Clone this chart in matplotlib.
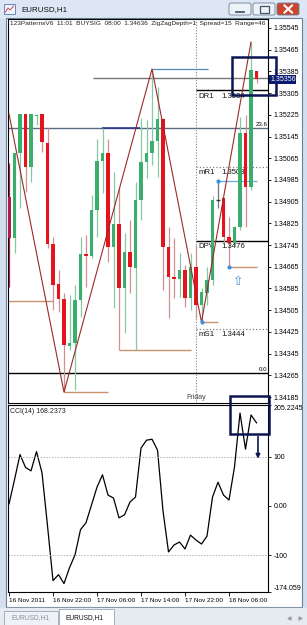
import matplotlib
matplotlib.use('Agg')
import matplotlib.pyplot as plt
import matplotlib.transforms as mtransforms
from matplotlib.patches import Rectangle, FancyBboxPatch

plt.rcParams['font.family'] = ['Liberation Sans', 'DejaVu Sans']

W, H = 307, 625

# EURUSD H1, one candle per hour, 16 Nov 14:00 .. 18 Nov 11:00
opens = [1.34922, 1.34771, 1.35084, 1.35228, 1.35033, 1.35221, 1.35228, 1.35121, 1.34749, 1.34602,
         1.34546, 1.34373, 1.34384, 1.34543, 1.34712, 1.34705, 1.34874, 1.35055, 1.35084, 1.34738,
         1.34823, 1.34587, 1.34719, 1.34660, 1.34911, 1.35051, 1.35084, 1.35128, 1.35210, 1.34738,
         1.34627, 1.34620, 1.34653, 1.34550, 1.34664, 1.34524, 1.34568, 1.34616, 1.34911, 1.34918,
         1.34775, 1.34753, 1.34812, 1.35158, 1.34959, 1.35387]
highs = [1.35047, 1.35084, 1.35228, 1.35228, 1.35228, 1.35228, 1.35228, 1.35176, 1.34775, 1.34653,
         1.34568, 1.34561, 1.34598, 1.34775, 1.34782, 1.34930, 1.35136, 1.35176, 1.35136, 1.35014,
         1.34959, 1.34789, 1.34837, 1.34977, 1.35213, 1.35206, 1.35394, 1.35328, 1.35215, 1.34812,
         1.34771, 1.34716, 1.34672, 1.34716, 1.34745, 1.34587, 1.34664, 1.34925, 1.34981, 1.34918,
         1.34848, 1.34815, 1.35217, 1.35224, 1.35493, 1.35387]
lows = [1.34590, 1.34716, 1.34882, 1.34941, 1.34977, 1.35188, 1.35088, 1.34734, 1.34506, 1.34498,
        1.34203, 1.34358, 1.34211, 1.34480, 1.34590, 1.34697, 1.34775, 1.34937, 1.34683, 1.34513,
        1.34358, 1.34420, 1.34568, 1.34358, 1.34837, 1.34992, 1.35040, 1.34996, 1.34579, 1.34476,
        1.34550, 1.34554, 1.34517, 1.34506, 1.34476, 1.34461, 1.34524, 1.34598, 1.34882, 1.34756,
        1.34664, 1.34745, 1.34801, 1.34812, 1.34948, 1.35342]
closes = [1.34771, 1.35084, 1.35228, 1.35033, 1.35228, 1.35224, 1.35125, 1.34749, 1.34598, 1.34546,
          1.34377, 1.34384, 1.34543, 1.34712, 1.34705, 1.34874, 1.35055, 1.35084, 1.34738, 1.34823,
          1.34587, 1.34719, 1.34664, 1.34911, 1.35051, 1.35084, 1.35128, 1.35210, 1.34738, 1.34627,
          1.34620, 1.34653, 1.34550, 1.34664, 1.34524, 1.34572, 1.34616, 1.34911, 1.34911, 1.34775,
          1.34753, 1.34812, 1.35158, 1.34959, 1.35390, 1.35356]
cci = [4, 53, 104, 78, 71, 110, 67, -40, -151, -139,
       -157, -125, -99, -48, -34, 2, 38, 63, 22, 16,
       -24, -18, 8, 18, 117, 133, 135, 113, -10, -93,
       -79, -73, -87, -59, -69, -77, -61, 18, 48, 22,
       12, 79, 188, 115, 184, 168.2373]

price_ticks = [1.35545, 1.35465, 1.35385, 1.35305, 1.35225, 1.35145, 1.35065, 1.34985, 1.34905,
               1.34825, 1.34745, 1.34665, 1.34585, 1.34505, 1.34425, 1.34345, 1.34265, 1.34185]
cci_ticks = [205.2245, 100, 0, -100, -174.059]
cci_tick_labels = ['205.2245', '100', '0.00', '-100', '-174.059']
date_ticks = [0, 8, 16, 24, 32, 40]
date_labels = ['16 Nov 2011', '16 Nov 22:00', '17 Nov 06:00', '17 Nov 14:00', '17 Nov 22:00', '18 Nov 06:00']

zigzag_bars = [0, 10, 26, 35, 44]
zigzag_prices = [1.35228, 1.34203, 1.35394, 1.34461, 1.35493]

pivot_names = ['DR1', 'mR1', 'DPV', 'mS1']
pivot_texts = ['1.3534', '1.3503', '1.3476', '1.3444']
pivot_levels = [1.35316, 1.35033, 1.34760, 1.34436]
pivot_styles = ['-', ':', '-', ':']

# swing-low lines (start bar, end bar, price)
swing_lines = [(-0.3, 8, 1.34539), (10, 18, 1.34203), (20, 33, 1.34358), (35, 38, 1.34461), (40, 45, 1.34664)]
signal_dots_bars = [35, 40, 38]
signal_dots_prices = [1.34461, 1.34664, 1.34981]

fib_236 = 1.35176
fib_000 = 1.34273
last_price = 1.35356
friday_bar = 34
header = '123PatternsV6  11:01  BUYSIG  08:00  1.34636  ZigZagDepth=1  Spread=15  Range=46'

BULL, BEAR = '#3aae6c', '#e5141c'
BULL_WICK, BEAR_WICK = '#86c9a0', '#d39090'
NAVY = '#0d1552'
FS = 5.0


def frac(x0, y0, x1, y1):
    return [x0 / W, 1 - y1 / H, (x1 - x0) / W, (y1 - y0) / H]


fig = plt.figure(figsize=(W / 100, H / 100), dpi=100)
fig.patch.set_facecolor('#d3deee')

# ---- window chrome (pixel coordinates) ----
bg = fig.add_axes([0, 0, 1, 1], zorder=0)
bg.set_xlim(0, W)
bg.set_ylim(H, 0)
bg.axis('off')
bg.add_patch(Rectangle((0, 0), W, 18, color='#dce6f4'))
bg.add_patch(Rectangle((6, 18), 296, 589, facecolor='white', edgecolor='#6d7f99', lw=0.8))
bg.add_patch(Rectangle((4, 4), 11, 10, facecolor='#eef2f9', edgecolor='#5577aa', lw=0.6))
bg.plot([5.5, 8, 10, 13.5], [12, 8, 10, 6], color='#cc3333', lw=0.6)
bg.text(21, 9.5, 'EURUSD,H1', fontsize=5.8, va='center', color='#101010')
for x0, fc in [(229, '#edf1f8'), (253, '#edf1f8'), (277, '#c9462c')]:
    bg.add_patch(FancyBboxPatch((x0, 3), 22, 12, boxstyle='round,pad=0,rounding_size=2',
                                fc=fc, ec='#6f7f99', lw=0.6))
bg.plot([235.5, 243.5], [11.5, 11.5], color='#44556e', lw=1.3)
bg.add_patch(Rectangle((259.5, 6), 9, 6.5, fill=False, ec='#44556e', lw=0.9))
bg.plot([284.5, 292], [5.5, 12.5], color='white', lw=1.5)
bg.plot([284.5, 292], [12.5, 5.5], color='white', lw=1.5)
bg.add_patch(Rectangle((0, 608), W, 17, color='#e6ebf2'))
bg.add_patch(Rectangle((4, 611), 54, 14, fc='#eef1f6', ec='#98a4b8', lw=0.6))
bg.add_patch(Rectangle((59, 609), 55, 16, fc='white', ec='#98a4b8', lw=0.6))
bg.text(11, 618, 'EURUSD,H1', fontsize=4.8, color='#8a929c', va='center')
bg.text(66, 618, 'EURUSD,H1', fontsize=4.8, color='#101010', va='center')
bg.plot([289], [618], marker='<', ms=2.2, color='#a0a0a0')
bg.plot([300], [618], marker='>', ms=2.2, color='#a0a0a0')

# ---- main price window ----
ax = fig.add_axes(frac(7.5, 19, 268, 403), zorder=2)
xlim = (-0.273, 47.09)
ax.set_xlim(*xlim)
ax.set_ylim(1.34163, 1.35578)
ax.set_xticks([])
ax.yaxis.tick_right()
ax.set_yticks(price_ticks)
ax.set_yticklabels(['%.5f' % p for p in price_ticks])
ax.tick_params(axis='y', length=2.5, width=0.6, pad=1.5, labelsize=FS, direction='out')
for s in ax.spines.values():
    s.set_color('black')
    s.set_linewidth(0.8)

ax.text(0.0096, 0.987, header, transform=ax.transAxes, fontsize=4.65, va='center', color='#202020')

# levels
ax.axhline(fib_236, color='#5b6b82', lw=1, zorder=1)
ax.axhline(fib_000, color='black', lw=1, zorder=1)
ax.text(xlim[1] - 0.05, fib_236 + 0.00003, '23.6', ha='right', va='bottom', fontsize=4.4)
ax.text(xlim[1] - 0.05, fib_000 + 0.00003, '0.0', ha='right', va='bottom', fontsize=4.4)
ax.hlines(1.35361, 15.3, xlim[1], color='#777777', lw=1, zorder=1)
ax.hlines(1.35176, 16.9, 23.8, color='#1f2f8a', lw=1.1, zorder=1)
ax.hlines(1.35394, 26, 36.2, color='#4b8bbb', lw=0.9, zorder=1)
ax.hlines(1.34981, 38, 45, color='#63aee6', lw=0.9, zorder=1)
for b0, b1, p in swing_lines:
    ax.hlines(p, b0, b1, color='#c8926c', lw=1, zorder=1)

ax.axvline(friday_bar, color='#808080', lw=0.8, ls=(0, (1, 1.5)), zorder=1)
ax.text(friday_bar, 1.34185, 'Friday', ha='center', va='center', fontsize=FS, color='#444444')

for name, txt, lev, ls in zip(pivot_names, pivot_texts, pivot_levels, pivot_styles):
    col = 'black' if ls == '-' else '#808080'
    ax.hlines(lev, friday_bar, xlim[1], color=col, lw=1 if ls == '-' else 0.9, ls=ls, zorder=1)
    ax.text(34.4, lev - 0.00009, name, fontsize=5.6, va='top', color='#151515')
    ax.text(38.7, lev - 0.00009, txt, fontsize=5.6, va='top', color='#151515')

# candles
for i, (o, h, l, c) in enumerate(zip(opens, highs, lows, closes)):
    if c > o:
        body, wick = BULL, BULL_WICK
    elif c < o:
        body, wick = BEAR, BEAR_WICK
    else:
        body, wick = '#333333', '#777777'
    if i == 0:
        body, wick = '#b41c4c', '#b41c4c'
    ax.vlines(i, l, h, color=wick, lw=0.9, zorder=2)
    if c == o:
        ax.hlines(o, i - 0.3, i + 0.3, color=body, lw=1, zorder=3)
    else:
        ax.bar(i, abs(c - o), bottom=min(o, c), width=0.6, color=body, lw=0, zorder=3)

ax.plot(zigzag_bars, zigzag_prices, color='#9c2a2a', lw=0.8, zorder=4)
ax.scatter(signal_dots_bars, signal_dots_prices, s=9, color='#3b8fe0', zorder=5, lw=0)
ax.text(41.6, 1.34610, '\u21e7', family='DejaVu Sans', fontsize=9, color='#4a90d0',
        ha='center', va='center', zorder=5)

ax.add_patch(Rectangle((40.55, 1.35298), 8.0, 0.0014, fill=False, ec=NAVY, lw=1.8,
                       clip_on=False, zorder=6))

trans = mtransforms.blended_transform_factory(ax.transAxes, ax.transData)
ax.text(1.008, last_price, '%.5f' % last_price, transform=trans, fontsize=FS, color='white',
        va='center', ha='left', zorder=7,
        bbox=dict(boxstyle='square,pad=0.12', fc='#0a1a6e', ec='none'))

# ---- CCI window ----
ax2 = fig.add_axes(frac(7.5, 404.5, 268, 592), zorder=3)
ax2.set_xlim(*xlim)
ax2.set_ylim(cci_ticks[-1], cci_ticks[0])
ax2.plot(range(len(cci)), cci, color='black', lw=0.9)
for lev in (100, -100):
    ax2.axhline(lev, color='#b4b4b4', lw=0.7, ls=(0, (1.5, 1.5)))
ax2.yaxis.tick_right()
ax2.set_yticks(cci_ticks)
ax2.set_yticklabels(cci_tick_labels)
ax2.tick_params(axis='y', length=2.5, width=0.6, pad=1.5, labelsize=FS)
labs = ax2.get_yticklabels()
labs[0].set_va('top')
labs[-1].set_va('bottom')
ax2.set_xticks(date_ticks)
ax2.set_xticklabels(date_labels)
ax2.tick_params(axis='x', length=3, width=0.6, pad=1.5, labelsize=4.6)
for lab in ax2.get_xticklabels():
    lab.set_ha('left')
for s in ax2.spines.values():
    s.set_color('black')
    s.set_linewidth(0.8)
ax2.text(0.0096, 0.965, 'CCI(14) 168.2373', transform=ax2.transAxes, fontsize=FS, va='center',
         color='#202020')

ax2.add_patch(Rectangle((40.18, 145.5), 7.09, 76.5, fill=False, ec=NAVY, lw=1.8,
                        clip_on=False, zorder=6))
ax2.annotate('', xy=(45.27, 90), xytext=(45.27, 146),
             arrowprops=dict(arrowstyle='-|>', color=NAVY, lw=1.2, mutation_scale=6))

fig.savefig('out.png', dpi=100)
